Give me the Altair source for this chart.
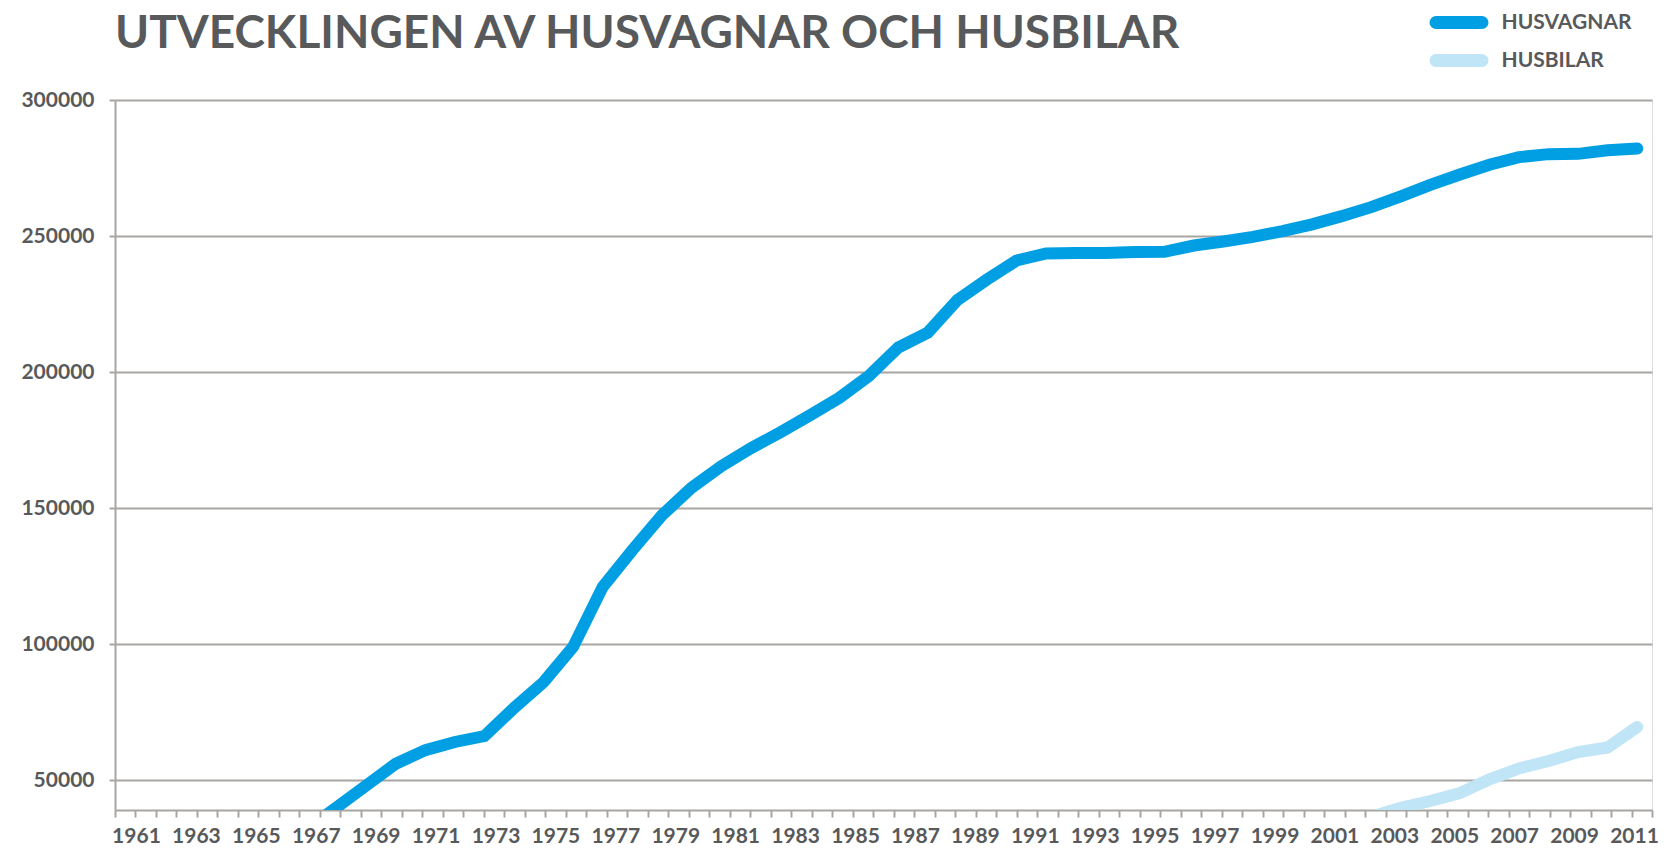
import altair as alt
import pandas as pd

years = list(range(1961, 2013))
husvagnar = [5000, 7000, 10000, 14000, 19000, 25000, 32000,
             40000, 48000, 56000, 61000, 64000, 66200, 76500, 86000, 99000,
             121000, 134500, 147300, 157400, 165300, 171900, 177800, 184000,
             190500, 198500, 209000, 214500, 226500, 234000, 241000, 243600,
             243800, 243800, 244100, 244200, 246500, 248000, 249700, 251800,
             254300, 257300, 260600, 264600, 268800, 272600, 276200, 279000,
             280100, 280200, 281500, 282200]
husbilar = [None] * 39 + [30500, 32500, 34500, 36500, 39800, 42300, 45200,
                          50300, 54300, 57000, 60300, 62000, 69500]
series_names = ["HUSVAGNAR", "HUSBILAR"]
series_colors = ["#009fe3", "#bfe5f7"]
y_ticks = [50000, 100000, 150000, 200000, 250000, 300000]
x_labels = list(range(1961, 2012, 2))
minor_ticks = list(range(0, 76))

rows = []
for y, a, b in zip(years, husvagnar, husbilar):
    rows.append({"year": y, "serie": series_names[0], "value": a})
    if b is not None:
        rows.append({"year": y, "serie": series_names[1], "value": b})
df = pd.DataFrame(rows)
ticks_df = pd.DataFrame({"t": minor_ticks})
labels_df = pd.DataFrame({"label_year": x_labels})

TXT = "#58595b"
GRID = "#a8a6a2"
FONT = "Lato"

# thin pill outline, stroked wide -> rounded bar in the legend
pill = ("M-23,-1.5 L23,-1.5 A1.5,1.5 0 0 1 23,1.5 L-23,1.5 "
        "A1.5,1.5 0 0 1 -23,-1.5 Z")

lines = alt.Chart(df).mark_line(strokeWidth=12, strokeCap="round", clip=True).encode(
    x=alt.X("year:Q",
            scale=alt.Scale(domain=[1960.5, 2012.5], nice=False, zero=False),
            axis=None),
    y=alt.Y("value:Q",
            scale=alt.Scale(domain=[39000, 300000], nice=False, zero=False),
            axis=alt.Axis(values=y_ticks, format="d", title=None,
                          grid=True, gridColor=GRID, gridWidth=2,
                          domain=True, domainColor=GRID, domainWidth=2,
                          ticks=True, tickColor=GRID, tickWidth=2, tickSize=6,
                          labelPadding=15, labelFont=FONT, labelFontSize=21,
                          labelFontWeight="bold", labelColor=TXT)),
    color=alt.Color("serie:N",
                    scale=alt.Scale(domain=series_names, range=series_colors),
                    sort=series_names,
                    legend=alt.Legend(title=None, orient="none", legendX=1333.5,
                                      legendY=-88, padding=0,
                                      symbolType=pill, symbolSize=4,
                                      symbolStrokeWidth=10, symbolOpacity=1,
                                      labelOffset=32, rowPadding=-5,
                                      labelFont=FONT, labelFontSize=21,
                                      labelFontWeight="bold", labelColor=TXT)),
    order=alt.Order("year:Q"),
)

tick_layer = alt.Chart(ticks_df).mark_point(opacity=0).encode(
    x=alt.X("t:Q", scale=alt.Scale(domain=[0, 75], nice=False, zero=False),
            axis=alt.Axis(values=minor_ticks, labels=False, title=None,
                          grid=False, orient="bottom",
                          domain=True, domainColor=GRID, domainWidth=2,
                          ticks=True, tickColor=GRID, tickWidth=2, tickSize=7)),
)

label_layer = alt.Chart(labels_df).mark_point(opacity=0).encode(
    x=alt.X("label_year:Q",
            scale=alt.Scale(domain=[1960.30, 2011.60], nice=False, zero=False),
            axis=alt.Axis(values=x_labels, format="d", title=None, ticks=False,
                          tickSize=0, domain=False, grid=False, labelPadding=15,
                          labelFont=FONT, labelFontSize=21, labelFontWeight="bold",
                          labelColor=TXT, labelFlush=False, orient="bottom")),
)

chart = alt.layer(tick_layer, label_layer, lines).resolve_scale(
    x="independent").properties(
    width=1537, height=710,
    autosize=alt.AutoSizeParams(type="none"),
    padding={"left": 107, "top": 92, "right": 10, "bottom": 36},
    title=alt.TitleParams("UTVECKLINGEN AV HUSVAGNAR OCH HUSBILAR",
                          font=FONT, fontSize=46, fontWeight="bold", color=TXT,
                          anchor="start", frame="group", baseline="alphabetic",
                          offset=-82),
).configure_view(stroke=None).configure(background="white")

chart.save("out.html", embed_options={"renderer": "svg", "actions": False})
